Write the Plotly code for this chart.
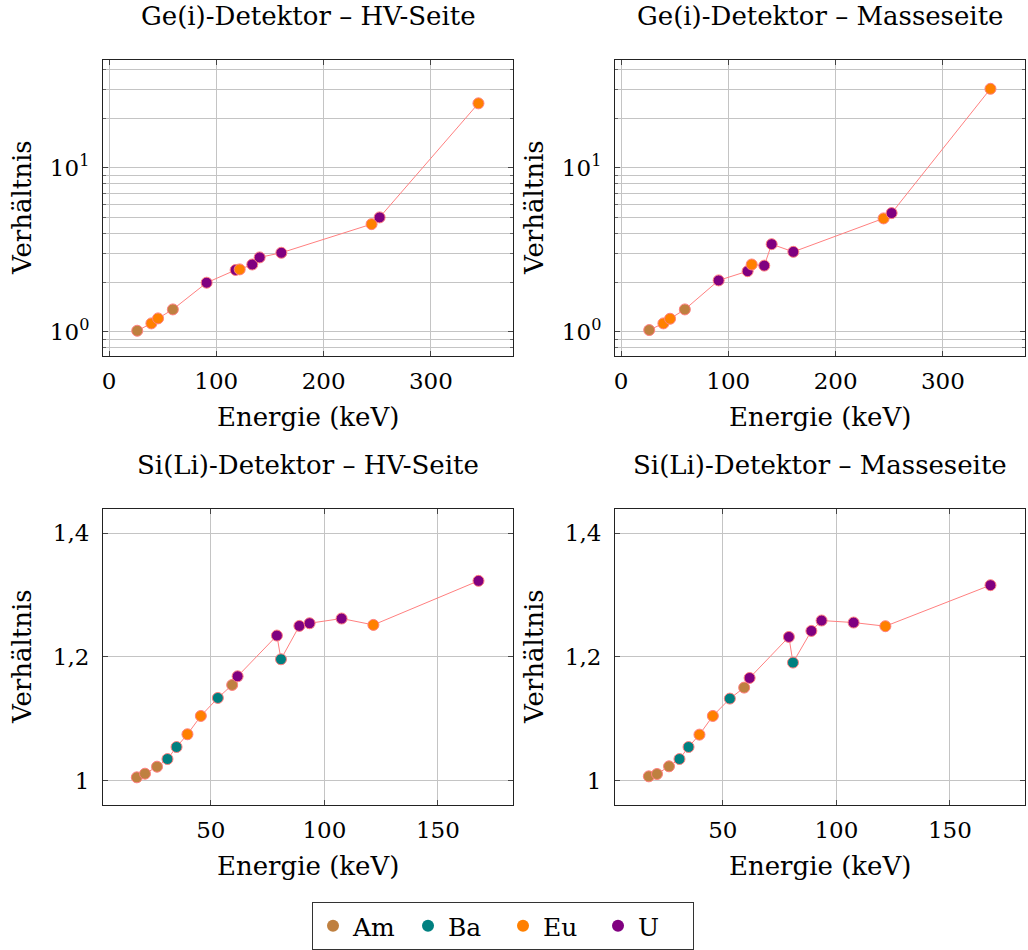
import plotly.graph_objects as go

# ---------------- data ----------------
ge_energy = [26.3, 39.5, 45.7, 59.5, 91.0, 118.0, 121.8, 133.5, 140.4, 160.6, 244.7, 252.2, 344.3]
ge_element = ["Am", "Eu", "Eu", "Am", "U", "U", "Eu", "U", "U", "U", "Eu", "U", "Eu"]
ge_hv = [1.014, 1.124, 1.206, 1.368, 1.99, 2.38, 2.40, 2.57, 2.84, 3.03, 4.53, 4.98, 24.7]
ge_mass = [1.024, 1.124, 1.20, 1.368, 2.056, 2.34, 2.57, 2.53, 3.42, 3.07, 4.91, 5.29, 30.3]

si_energy = [17.4, 21.0, 26.3, 30.9, 34.9, 39.7, 45.6, 53.1, 59.4, 61.8, 79.1, 80.9, 89.0, 93.5, 107.6, 121.6, 167.9]
si_element = ["Am", "Am", "Am", "Ba", "Ba", "Eu", "Eu", "Ba", "Am", "U", "U", "Ba", "U", "U", "U", "Eu", "U"]
si_hv = [1.0054, 1.0113, 1.0226, 1.035, 1.0544, 1.075, 1.1046, 1.1337, 1.1547, 1.1687, 1.2345, 1.1962,
         1.2501, 1.2544, 1.262, 1.2517, 1.3229]
si_mass = [1.007, 1.0108, 1.0232, 1.035, 1.0544, 1.0744, 1.1046, 1.1326, 1.1504, 1.166, 1.2323, 1.1908,
           1.242, 1.2588, 1.2555, 1.2496, 1.3159]

elements = ["Am", "Ba", "Eu", "U"]
titles = ["Ge(i)-Detektor – HV-Seite", "Ge(i)-Detektor – Masseseite",
          "Si(Li)-Detektor – HV-Seite", "Si(Li)-Detektor – Masseseite"]
ge_yticks = [1, 10]
ge_yticklabels = ["10<sup>0</sup>", "10<sup>1</sup>"]
si_yticks = [1, 1.2, 1.4]
si_yticklabels = ["1", "1,2", "1,4"]
ge_xticks = [0, 100, 200, 300]
si_xticks = [50, 100, 150]

# ---------------- style ----------------
colors = {"Am": "#BF8040", "Ba": "#008080", "Eu": "#FF8000", "U": "#800080"}
LINE = "#FF8080"
GRID = "#c4c4c4"
FONT = "DejaVu Serif"
TICK_SIZE = 23
TEXT_SIZE = 26
W, H = 1028, 950

# panel pixel boxes (x0, x1, y0, y1) from the top-left corner
boxes = [(103, 513, 60, 356), (615, 1025, 60, 356),
         (103, 513, 509, 805), (615, 1025, 509, 805)]

fig = go.Figure()

panels = [(ge_energy, ge_hv, ge_element), (ge_energy, ge_mass, ge_element),
          (si_energy, si_hv, si_element), (si_energy, si_mass, si_element)]

for i, (ex, vy, el) in enumerate(panels):
    ax = "" if i == 0 else str(i + 1)
    fig.add_trace(go.Scatter(
        x=ex, y=vy, mode="lines+markers", xaxis="x" + ax, yaxis="y" + ax,
        line=dict(color=LINE, width=1),
        marker=dict(size=11, color=[colors[e] for e in el], line=dict(color=LINE, width=1)),
        showlegend=False, hoverinfo="x+y"))

for e in elements:
    fig.add_trace(go.Scatter(x=[None], y=[None], mode="markers", name=e,
                             marker=dict(size=8, color=colors[e]), showlegend=True))

layout = dict(
    width=W, height=H, paper_bgcolor="white", plot_bgcolor="white",
    margin=dict(l=0, r=0, t=0, b=0),
    font=dict(family=FONT, size=TICK_SIZE, color="black"),
    legend=dict(orientation="h", x=0.4893, xanchor="center", y=0.0, yanchor="bottom",
                bordercolor="#333333", borderwidth=1, font=dict(size=25, family=FONT),
                itemsizing="constant", bgcolor="white", entrywidth=50, entrywidthmode="pixels"),
    annotations=[],
)

for i, (x0, x1, y0, y1) in enumerate(boxes):
    ax = "" if i == 0 else str(i + 1)
    top = i < 2
    xa = dict(domain=[x0 / W, x1 / W], anchor="y" + ax,
              showline=True, linecolor="#222222", linewidth=1, mirror="ticks",
              ticks="inside", ticklen=5, tickcolor="#444444",
              showgrid=True, gridcolor=GRID, gridwidth=1, zeroline=False,
              tickfont=dict(size=TICK_SIZE, family=FONT), ticklabelstandoff=4)
    ya = dict(domain=[1 - y1 / H, 1 - y0 / H], anchor="x" + ax,
              showline=True, linecolor="#222222", linewidth=1, mirror="ticks",
              ticks="inside", ticklen=5, tickcolor="#444444",
              showgrid=True, gridcolor=GRID, gridwidth=1, zeroline=False,
              tickfont=dict(size=TICK_SIZE, family=FONT), ticklabelstandoff=8)
    if top:
        xa.update(range=[-5.6, 376.5], tickvals=ge_xticks, ticktext=[str(t) for t in ge_xticks])
        ya.update(type="log", range=[-0.148, 1.657], tickvals=ge_yticks, ticktext=ge_yticklabels,
                  minor=dict(dtick="D1", showgrid=True, gridcolor=GRID, gridwidth=1,
                             ticks="inside", ticklen=3, tickcolor="#666666"))
    else:
        xa.update(range=[2.5, 183.1], tickvals=si_xticks, ticktext=[str(t) for t in si_xticks])
        ya.update(range=[0.9607, 1.439], tickvals=si_yticks, ticktext=si_yticklabels)
    layout["xaxis" + ax] = xa
    layout["yaxis" + ax] = ya

    cx = (x0 + x1) / 2 / W
    layout["annotations"].append(dict(text=titles[i], x=cx, y=1 - (y0 - 44) / H, xref="paper", yref="paper",
                                      xanchor="center", yanchor="middle", showarrow=False,
                                      font=dict(size=TEXT_SIZE, family=FONT)))
    layout["annotations"].append(dict(text="Energie (keV)", x=cx, y=1 - (y1 + 61) / H, xref="paper", yref="paper",
                                      xanchor="center", yanchor="middle", showarrow=False,
                                      font=dict(size=TEXT_SIZE, family=FONT)))
    layout["annotations"].append(dict(text="Verhältnis", x=(x0 - 81) / W, y=1 - (y0 + y1) / 2 / H,
                                      xref="paper", yref="paper", textangle=-90,
                                      xanchor="center", yanchor="middle", showarrow=False,
                                      font=dict(size=TEXT_SIZE, family=FONT)))

fig.update_layout(**layout)
fig.write_html("out.html")
